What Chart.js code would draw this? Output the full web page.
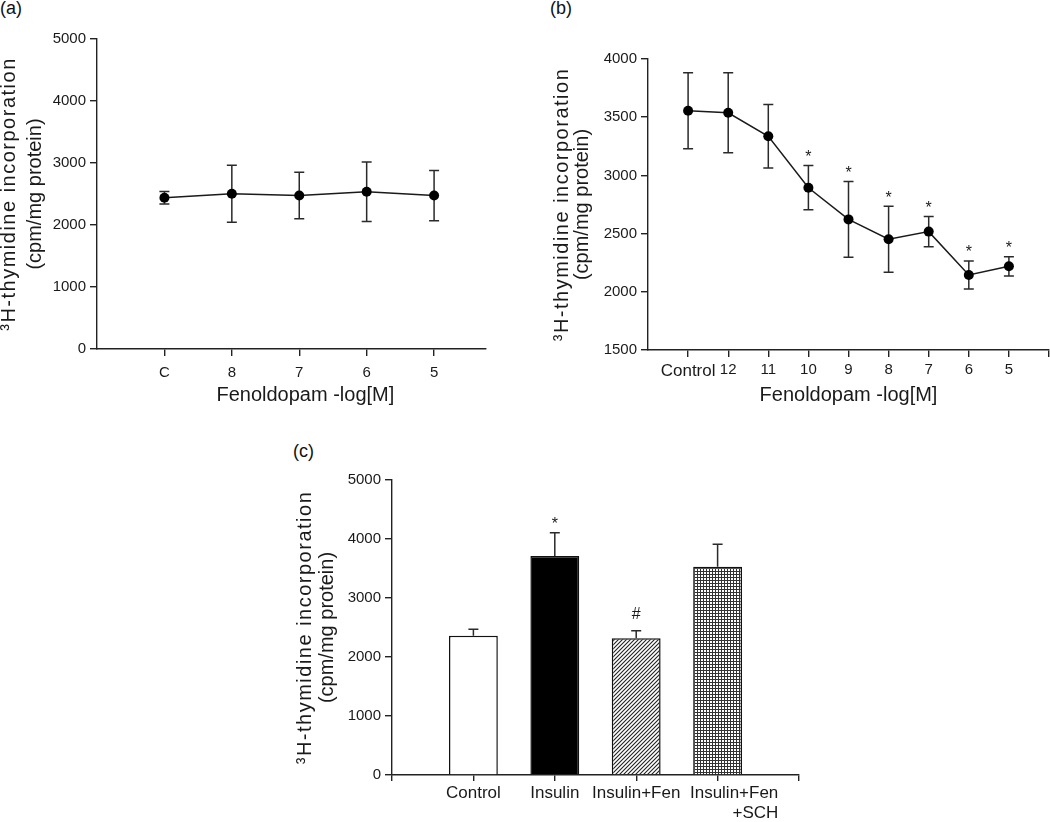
<!DOCTYPE html>
<html>
<head>
<meta charset="utf-8">
<script src="https://cdn.jsdelivr.net/npm/chart.js@4.4.0/dist/chart.umd.min.js"></script>
<style>
html,body{margin:0;padding:0;background:#fff;}
body{width:1050px;height:822px;position:relative;overflow:hidden;font-family:"Liberation Sans",Arial,sans-serif;color:#111;}
canvas{position:absolute;}
.plab{position:absolute;font-size:18px;line-height:18px;color:#111;}
</style>
</head>
<body>
<div class="plab" style="left:0px;top:-1px">(a)</div>
<div class="plab" style="left:550px;top:-1px">(b)</div>
<div class="plab" style="left:293px;top:442px">(c)</div>
<canvas id="ca" width="504" height="410" style="left:-4px;top:0px"></canvas>
<canvas id="cb" width="530" height="410" style="left:520px;top:0px"></canvas>
<canvas id="cc" width="540" height="452" style="left:280px;top:370px"></canvas>
<script>
// ---------- data ----------
const aLabels = ['C', '8', '7', '6', '5'];
const aMean = [2440, 2505, 2475, 2535, 2475];
const aSem = [100, 460, 375, 480, 405];

const bLabels = ['Control', '12', '11', '10', '9', '8', '7', '6', '5'];
const bMean = [3555, 3538, 3336, 2894, 2622, 2452, 2517, 2145, 2219];
const bSem = [327, 344, 273, 190, 325, 284, 129, 120, 83];
const bMarks = ['', '', '', '*', '*', '*', '*', '*', '*'];

const cLabels = ['Control', 'Insulin', 'Insulin+Fen', ['       Insulin+Fen', '                +SCH']];
const cMean = [2360, 3712, 2317, 3531];
const cSem = [110, 395, 129, 379];
const cMarks = ['', '*', '#', ''];

const yTitle = ['\u00B3H-thymidine incorporation', '(cpm/mg protein)'];
const xTitleA = '     Fenoldopam -log[M]';
const xTitleB = 'Fenoldopam -log[M]';

// ---------- styles ----------
const FONT = '"Liberation Sans", Arial, sans-serif';
const INK = '#1a1a1a';
const AXC = '#222';

function errPlugin(mean, sem, marks, upOnly, markFont) {
  const gaps = {'*': 9.5, '#': 12};
  return {
    id: 'errbars',
    beforeDraw(chart) {
      // slightly wider tracking for the first line of the y title (as in the original figure)
      const s = chart.scales.y;
      if (s.__patched) return;
      s.__patched = true;
      const orig = s.drawTitle;
      s.drawTitle = function () {
        const c = this.ctx;
        const base = CanvasRenderingContext2D.prototype.fillText;
        c.fillText = function (t, x, y, m) {
          c.letterSpacing = (t === yTitle[0]) ? '1.5px' : '0px';
          if (m === undefined) base.call(c, t, x, y); else base.call(c, t, x, y, m);
        };
        try { orig.apply(this, arguments); }
        finally { delete c.fillText; c.letterSpacing = '0px'; }
      };
    },
    beforeDatasetsDraw(chart) {
      const ctx = chart.ctx, ys = chart.scales.y, meta = chart.getDatasetMeta(0);
      ctx.save();
      ctx.strokeStyle = '#2a2a2a';
      ctx.lineWidth = 1.5;
      mean.forEach((m, i) => {
        if (m == null) return;
        const x = meta.data[i].x;
        const yt = ys.getPixelForValue(m + sem[i]);
        const yb = upOnly ? ys.getPixelForValue(m) : ys.getPixelForValue(m - sem[i]);
        ctx.beginPath();
        ctx.moveTo(x, yt); ctx.lineTo(x, yb);
        ctx.moveTo(x - 5, yt); ctx.lineTo(x + 5, yt);
        if (!upOnly) { ctx.moveTo(x - 5, yb); ctx.lineTo(x + 5, yb); }
        ctx.stroke();
      });
      ctx.restore();
    },
    afterDatasetsDraw(chart) {
      if (!marks) return;
      const ctx = chart.ctx, ys = chart.scales.y, meta = chart.getDatasetMeta(0);
      ctx.save();
      ctx.fillStyle = INK;
      ctx.font = markFont;
      ctx.textAlign = 'center';
      ctx.textBaseline = 'alphabetic';
      marks.forEach((mk, i) => {
        if (!mk || mean[i] == null) return;
        const x = meta.data[i].x;
        const yt = ys.getPixelForValue(mean[i] + sem[i]);
        const mt = ctx.measureText(mk);
        const bottom = yt - (gaps[mk] || 10);
        ctx.fillText(mk, x, bottom - mt.actualBoundingBoxDescent);
      });
      ctx.restore();
    }
  };
}

function axisCommon() {
  return {
    border: {display: true, color: AXC, width: 1.4},
    grid: {display: true, drawOnChartArea: false, drawTicks: true, tickLength: 7, color: AXC, lineWidth: 1.4}
  };
}

function tickFont(ctx) {
  const l = ctx.tick && ctx.tick.label;
  const s = Array.isArray(l) ? l.join('') : String(l == null ? '' : l);
  return {family: FONT, size: /^[0-9]*$/.test(s) ? 15 : 17};
}

function yAxis(min, max, step, width, titlePad, lh) {
  return Object.assign(axisCommon(), {
    type: 'linear', min: min, max: max,
    afterFit(s) { s.width = width; s.paddingTop = 0; s.paddingBottom = 0; },
    ticks: {stepSize: step, color: INK, padding: 4, font: {family: FONT, size: 15}, callback: (v) => String(v)},
    title: {display: true, text: yTitle, color: INK, font: {family: FONT, size: 20, lineHeight: lh}, padding: {top: titlePad, bottom: 0}}
  });
}

function baseOptions(pad, xScale, yScale) {
  return {
    responsive: false,
    animation: false,
    events: [],
    layout: {padding: pad, autoPadding: false},
    plugins: {legend: {display: false}, tooltip: {enabled: false}, title: {display: false}},
    scales: {x: xScale, y: yScale}
  };
}

// ---------- panel (a) ----------
new Chart(document.getElementById('ca'), {
  type: 'line',
  data: {
    datasets: [{
      data: aMean.map((v, i) => ({x: i + 1, y: v})),
      borderColor: INK, borderWidth: 1.5,
      pointRadius: 5, pointBackgroundColor: '#000', pointBorderColor: '#000', pointBorderWidth: 0,
      tension: 0, fill: false
    }]
  },
  options: baseOptions({top: 39, right: 14, left: 0, bottom: 0},
    Object.assign(axisCommon(), {
      type: 'linear', min: 0, max: 5.77,
      afterFit(s) { s.height = 61; s.paddingLeft = 0; s.paddingRight = 0; },
      afterBuildTicks(s) { s.ticks = aLabels.map((_, i) => ({value: i + 1})); },
      ticks: {color: INK, padding: 8, maxRotation: 0, minRotation: 0, autoSkip: false, font: {family: FONT, size: 15}, callback: (v) => aLabels[v - 1] || ''},
      title: {display: true, text: xTitleA, color: INK, font: {family: FONT, size: 20, lineHeight: 1.1}, padding: {top: 0, bottom: 4}}
    }),
    yAxis(0, 5000, 1000, 101, 0, 1.3)),
  plugins: [errPlugin(aMean, aSem, null, false, '')]
});

// ---------- panel (b) ----------
new Chart(document.getElementById('cb'), {
  type: 'line',
  data: {
    datasets: [{
      data: bMean.map((v, i) => ({x: i + 1, y: v})),
      borderColor: INK, borderWidth: 1.5,
      pointRadius: 5, pointBackgroundColor: '#000', pointBorderColor: '#000', pointBorderWidth: 0,
      tension: 0, fill: false
    }]
  },
  options: baseOptions({top: 59, right: 1, left: 0, bottom: 0},
    Object.assign(axisCommon(), {
      type: 'linear', min: 0, max: 10,
      afterFit(s) { s.height = 60; s.paddingLeft = 0; s.paddingRight = 0; },
      afterBuildTicks(s) { const t = []; for (let i = 1; i <= bLabels.length + 1; i++) t.push({value: i}); s.ticks = t; },
      ticks: {color: INK, padding: 4, maxRotation: 0, minRotation: 0, autoSkip: false, font: tickFont, callback: (v) => bLabels[v - 1] || ''},
      title: {display: true, text: xTitleB, color: INK, font: {family: FONT, size: 20, lineHeight: 1.1}, padding: {top: 0, bottom: 4}}
    }),
    yAxis(1500, 4000, 500, 128, 32, 1.0)),
  plugins: [errPlugin(bMean, bSem, bMarks, false, '16px ' + FONT)]
});

// ---------- panel (c) ----------
function makePatterns(ctx) {
  const d = document.createElement('canvas'); d.width = 4; d.height = 4;
  const g = d.getContext('2d');
  g.fillStyle = '#fff'; g.fillRect(0, 0, 4, 4);
  g.strokeStyle = '#222'; g.lineWidth = 1.1;
  g.beginPath();
  g.moveTo(-1, 5); g.lineTo(5, -1);
  g.moveTo(-1, 1); g.lineTo(1, -1);
  g.moveTo(3, 5); g.lineTo(5, 3);
  g.stroke();
  const q = document.createElement('canvas'); q.width = 3; q.height = 3;
  const h = q.getContext('2d');
  h.fillStyle = '#fff'; h.fillRect(0, 0, 3, 3);
  h.fillStyle = '#333'; h.fillRect(0, 0, 3, 1); h.fillRect(0, 0, 1, 3);
  return [ctx.createPattern(d, 'repeat'), ctx.createPattern(q, 'repeat')];
}
const ccv = document.getElementById('cc');
const [diag, grid] = makePatterns(ccv.getContext('2d'));
const cFills = ['#ffffff', '#000000', diag, grid];

const cLabelsPadded = [''].concat(cLabels, ['']);
const cMeanPadded = [null].concat(cMean, [null]);
const cSemPadded = [0].concat(cSem, [0]);
const cMarksPadded = [''].concat(cMarks, ['']);

new Chart(ccv, {
  type: 'bar',
  data: {
    labels: cLabelsPadded,
    datasets: [{
      data: cMeanPadded,
      backgroundColor: ['#fff'].concat(cFills, ['#fff']),
      borderColor: '#111', borderWidth: 1.5, borderSkipped: 'start',
      categoryPercentage: 1, barPercentage: 0.6
    }]
  },
  options: baseOptions({top: 110, right: 21, left: 0, bottom: 0},
    Object.assign(axisCommon(), {
      type: 'category', offset: false,
      afterFit(s) { s.height = 47; s.paddingLeft = 0; s.paddingRight = 0; },
      grid: {display: true, offset: false, drawOnChartArea: false, drawTicks: true, tickLength: 6, color: AXC, lineWidth: 1.4},
      ticks: {color: INK, padding: 3, autoSkip: false, maxRotation: 0, minRotation: 0, font: {family: FONT, size: 17, lineHeight: 1.15}},
      title: {display: false}
    }),
    yAxis(0, 5000, 1000, 112, 14, 1.1)),
  plugins: [errPlugin(cMeanPadded, cSemPadded, cMarksPadded, true, '16px ' + FONT)]
});
</script>
</body>
</html>
